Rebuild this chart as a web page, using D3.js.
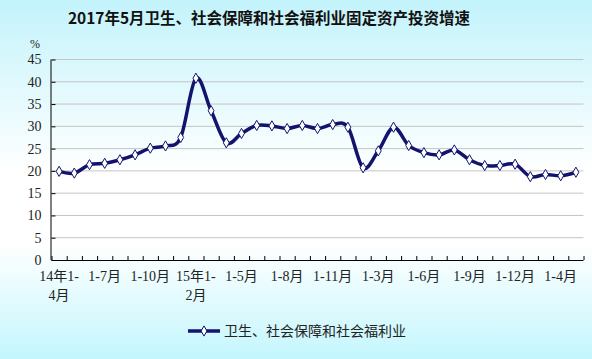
<!DOCTYPE html>
<html><head><meta charset="utf-8">
<script src="https://cdn.jsdelivr.net/npm/d3@7"></script>
<style>html,body{margin:0;padding:0;}svg{display:block;}</style>
</head><body>
<svg id="c" width="592" height="359"></svg>
<script>
const title = "2017年5月卫生、社会保障和社会福利业固定资产投资增速";
const seriesName = "卫生、社会保障和社会福利业";
const categories = [
  "2014年1-4月","2014年1-5月","2014年1-6月","2014年1-7月","2014年1-8月","2014年1-9月","2014年1-10月","2014年1-11月","2014年1-12月",
  "2015年1-2月","2015年1-3月","2015年1-4月","2015年1-5月","2015年1-6月","2015年1-7月","2015年1-8月","2015年1-9月","2015年1-10月","2015年1-11月","2015年1-12月",
  "2016年1-2月","2016年1-3月","2016年1-4月","2016年1-5月","2016年1-6月","2016年1-7月","2016年1-8月","2016年1-9月","2016年1-10月","2016年1-11月","2016年1-12月",
  "2017年1-2月","2017年1-3月","2017年1-4月","2017年1-5月"
];
const values = [
  19.9,19.5,21.4,21.7,22.5,23.6,25.1,25.6,27.5,
  40.8,33.5,26.3,28.4,30.2,30.1,29.5,30.2,29.5,30.4,29.8,
  20.7,24.5,29.8,25.7,24.1,23.6,24.7,22.5,21.2,21.2,21.5,
  18.7,19.2,18.9,19.7
];
// displayed tick labels (every third category), lines split
const tickLabels = {
  0:["14年1-","4月"], 3:["1-7月"], 6:["1-10月"], 9:["15年1-","2月"], 12:["1-5月"], 15:["1-8月"],
  18:["1-11月"], 21:["1-3月"], 24:["1-6月"], 27:["1-9月"], 30:["1-12月"], 33:["1-4月"]
};
const yTicks = [0,5,10,15,20,25,30,35,40,45];

(function(){
const svg = d3.select("#c");
const W = 592, H = 359;
const defs = svg.append("defs");
const g = defs.append("linearGradient").attr("id","bg").attr("x1",0).attr("y1",0).attr("x2",0).attr("y2",1);
g.append("stop").attr("offset","0%").attr("stop-color","#c3f3fb");
g.append("stop").attr("offset","48%").attr("stop-color","#ffffff");
g.append("stop").attr("offset","68%").attr("stop-color","#ffffff");
g.append("stop").attr("offset","100%").attr("stop-color","#c3f6fd");
svg.append("rect").attr("width",W).attr("height",H).attr("fill","url(#bg)");

const pl = 51.5, pr = 583.5, pt = 59.5, pb = 260;
const x = d3.scaleBand().domain(d3.range(categories.length)).range([pl,pr]).padding(0);
const y = d3.scaleLinear().domain([0,45]).range([pb,pt]);
const cx = i => x(i) + x.bandwidth()/2;

const serif = "'Liberation Serif','Noto Sans CJK SC',serif";
const cjk = "'Noto Sans CJK SC','Noto Sans',sans-serif";

// title
svg.append("text").attr("x",269).attr("y",24).attr("text-anchor","middle")
  .attr("font-family",cjk).attr("font-weight","bold").attr("font-size",15.5).attr("fill","#111").text(title);

// gridlines
svg.append("g").selectAll("line").data(yTicks.filter(d=>d>0)).join("line")
  .attr("x1",pl).attr("x2",pr).attr("y1",d=>y(d)).attr("y2",d=>y(d))
  .attr("stroke","#c4c4c4").attr("stroke-width",1);

// y axis
const ya = svg.append("g").attr("transform",`translate(${pl},0)`)
  .call(d3.axisLeft(y).tickValues(yTicks).tickSize(-4).tickPadding(10).tickFormat(d3.format("d")));
ya.select(".domain").attr("stroke","#000").attr("d",`M-0.5,${pt}V${pb}`);
ya.selectAll(".tick line").attr("stroke","#000");
ya.selectAll("text").attr("font-family",serif).attr("font-size",14).attr("fill","#222");
svg.append("text").attr("x",35).attr("y",48).attr("text-anchor","middle")
  .attr("font-family",serif).attr("font-size",12).attr("fill","#222").text("%");

// x axis
const xb = d3.scaleLinear().domain([0,categories.length]).range([pl,pr]);
const xa = svg.append("g").attr("transform",`translate(0,${pb})`)
  .call(d3.axisBottom(xb).tickValues(d3.range(categories.length+1)).tickSize(-4).tickFormat(""));
xa.select(".domain").attr("stroke","#000").attr("d",`M${pl},0.5H${pr}`);
xa.selectAll(".tick line").attr("stroke","#000");

const lab = svg.append("g");
Object.keys(tickLabels).forEach(k => {
  const i = +k;
  const t = lab.append("text").attr("x",cx(i)).attr("y",pb+21).attr("text-anchor","middle")
    .attr("font-family",serif).attr("font-size",14).attr("fill","#222");
  tickLabels[k].forEach((s,j)=>{
    t.append("tspan").attr("x",cx(i)).attr("dy",j===0?0:19).text(s);
  });
});

// line
const line = d3.line().x((d,i)=>cx(i)).y(d=>y(d)).curve(d3.curveCardinal.tension(0));
svg.append("path").datum(values).attr("d",line).attr("fill","none")
  .attr("stroke","#13136e").attr("stroke-width",3.5).attr("stroke-linejoin","round");
const diamond = d3.symbol().type(d3.symbolDiamond).size(30);
svg.append("g").selectAll("path").data(values).join("path")
  .attr("transform",(d,i)=>`translate(${cx(i)},${y(d)})`).attr("d",diamond)
  .attr("fill","#fff").attr("stroke","#13136e").attr("stroke-width",1);

// legend
const lg = svg.append("g").attr("transform","translate(188,331)");
lg.append("line").attr("x1",0).attr("x2",32).attr("y1",0).attr("y2",0).attr("stroke","#13136e").attr("stroke-width",3.5);
lg.append("path").attr("transform","translate(16,0)").attr("d",diamond).attr("fill","#fff").attr("stroke","#13136e");
lg.append("text").attr("x",36).attr("y",5).attr("font-family",cjk).attr("font-size",14).attr("fill","#222").text(seriesName);
})();
</script>
</body></html>
